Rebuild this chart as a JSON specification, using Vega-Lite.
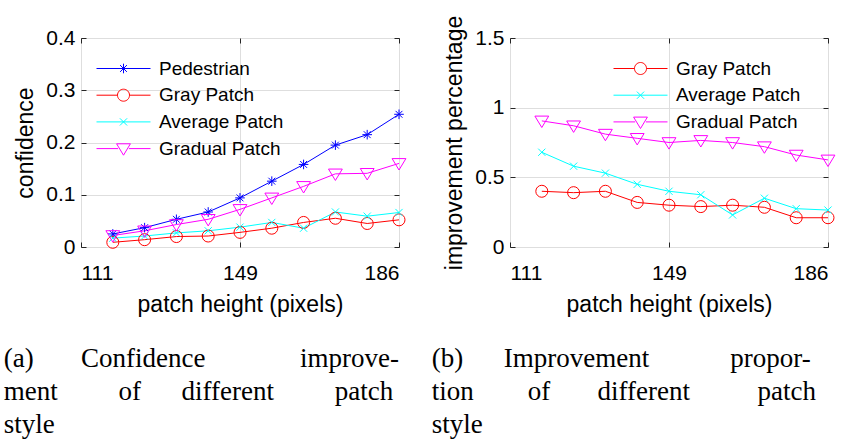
{
  "$schema": "https://vega.github.io/schema/vega-lite/v6.json",
  "padding": {"left": 3, "top": 14, "right": 5, "bottom": 5},
  "spacing": 4,
  "background": "white",
  "resolve": {
    "scale": {"color": "independent", "shape": "independent"},
    "legend": {"color": "independent", "shape": "independent"}
  },
  "config": {
    "font": "Liberation Sans",
    "view": {"stroke": "#262626", "strokeWidth": 1},
    "axis": {
      "domain": false,
      "labelFont": "Liberation Sans",
      "labelFontSize": 21,
      "labelColor": "black",
      "titleFont": "Liberation Sans",
      "titleFontSize": 23,
      "titleFontWeight": "normal",
      "titleColor": "black",
      "tickColor": "#262626",
      "tickSize": -5,
      "gridColor": "#dedede",
      "gridWidth": 1
    },
    "legend": {
      "labelFont": "Liberation Sans",
      "labelFontSize": 19,
      "labelColor": "black",
      "symbolSize": 144,
      "symbolStrokeWidth": 1,
      "symbolOpacity": 1,
      "symbolFillColor": "transparent",
      "rowPadding": 6.7,
      "labelOffset": 26
    },
    "title": {
      "font": "Liberation Serif",
      "fontSize": 27,
      "fontWeight": "normal",
      "lineHeight": 33,
      "color": "black",
      "orient": "bottom",
      "anchor": "start",
      "frame": "bounds",
      "offset": 30
    }
  },
  "datasets": {
    "conf": [
      {"h": 118.5, "series": "Pedestrian", "v": 0.025},
      {"h": 126, "series": "Pedestrian", "v": 0.037},
      {"h": 133.5, "series": "Pedestrian", "v": 0.053},
      {"h": 141, "series": "Pedestrian", "v": 0.067},
      {"h": 148.5, "series": "Pedestrian", "v": 0.094},
      {"h": 156, "series": "Pedestrian", "v": 0.126},
      {"h": 163.5, "series": "Pedestrian", "v": 0.158},
      {"h": 171, "series": "Pedestrian", "v": 0.195},
      {"h": 178.5, "series": "Pedestrian", "v": 0.215},
      {"h": 186, "series": "Pedestrian", "v": 0.254},
      {"h": 118.5, "series": "Gray Patch", "v": 0.009},
      {"h": 126, "series": "Gray Patch", "v": 0.014},
      {"h": 133.5, "series": "Gray Patch", "v": 0.020},
      {"h": 141, "series": "Gray Patch", "v": 0.021},
      {"h": 148.5, "series": "Gray Patch", "v": 0.028},
      {"h": 156, "series": "Gray Patch", "v": 0.036},
      {"h": 163.5, "series": "Gray Patch", "v": 0.047},
      {"h": 171, "series": "Gray Patch", "v": 0.055},
      {"h": 178.5, "series": "Gray Patch", "v": 0.045},
      {"h": 186, "series": "Gray Patch", "v": 0.052},
      {"h": 118.5, "series": "Average Patch", "v": 0.017},
      {"h": 126, "series": "Average Patch", "v": 0.021},
      {"h": 133.5, "series": "Average Patch", "v": 0.027},
      {"h": 141, "series": "Average Patch", "v": 0.031},
      {"h": 148.5, "series": "Average Patch", "v": 0.038},
      {"h": 156, "series": "Average Patch", "v": 0.047},
      {"h": 163.5, "series": "Average Patch", "v": 0.036},
      {"h": 171, "series": "Average Patch", "v": 0.067},
      {"h": 178.5, "series": "Average Patch", "v": 0.059},
      {"h": 186, "series": "Average Patch", "v": 0.066},
      {"h": 118.5, "series": "Gradual Patch", "v": 0.022},
      {"h": 126, "series": "Gradual Patch", "v": 0.031},
      {"h": 133.5, "series": "Gradual Patch", "v": 0.043},
      {"h": 141, "series": "Gradual Patch", "v": 0.053},
      {"h": 148.5, "series": "Gradual Patch", "v": 0.072},
      {"h": 156, "series": "Gradual Patch", "v": 0.094},
      {"h": 163.5, "series": "Gradual Patch", "v": 0.116},
      {"h": 171, "series": "Gradual Patch", "v": 0.140},
      {"h": 178.5, "series": "Gradual Patch", "v": 0.141},
      {"h": 186, "series": "Gradual Patch", "v": 0.160}
    ],
    "impr": [
      {"h": 118.5, "series": "Gray Patch", "v": 0.40},
      {"h": 126, "series": "Gray Patch", "v": 0.39},
      {"h": 133.5, "series": "Gray Patch", "v": 0.40},
      {"h": 141, "series": "Gray Patch", "v": 0.32},
      {"h": 148.5, "series": "Gray Patch", "v": 0.30},
      {"h": 156, "series": "Gray Patch", "v": 0.29},
      {"h": 163.5, "series": "Gray Patch", "v": 0.30},
      {"h": 171, "series": "Gray Patch", "v": 0.285},
      {"h": 178.5, "series": "Gray Patch", "v": 0.21},
      {"h": 186, "series": "Gray Patch", "v": 0.21},
      {"h": 118.5, "series": "Average Patch", "v": 0.68},
      {"h": 126, "series": "Average Patch", "v": 0.58},
      {"h": 133.5, "series": "Average Patch", "v": 0.53},
      {"h": 141, "series": "Average Patch", "v": 0.45},
      {"h": 148.5, "series": "Average Patch", "v": 0.40},
      {"h": 156, "series": "Average Patch", "v": 0.375},
      {"h": 163.5, "series": "Average Patch", "v": 0.23},
      {"h": 171, "series": "Average Patch", "v": 0.35},
      {"h": 178.5, "series": "Average Patch", "v": 0.275},
      {"h": 186, "series": "Average Patch", "v": 0.265},
      {"h": 118.5, "series": "Gradual Patch", "v": 0.905},
      {"h": 126, "series": "Gradual Patch", "v": 0.87},
      {"h": 133.5, "series": "Gradual Patch", "v": 0.81},
      {"h": 141, "series": "Gradual Patch", "v": 0.78},
      {"h": 148.5, "series": "Gradual Patch", "v": 0.75},
      {"h": 156, "series": "Gradual Patch", "v": 0.765},
      {"h": 163.5, "series": "Gradual Patch", "v": 0.75},
      {"h": 171, "series": "Gradual Patch", "v": 0.72},
      {"h": 178.5, "series": "Gradual Patch", "v": 0.66},
      {"h": 186, "series": "Gradual Patch", "v": 0.625}
    ]
  },
  "hconcat": [
    {
      "width": 318,
      "height": 209,
      "data": {"name": "conf"},
      "title": {
        "text": [
          "(a)\u00a0\u00a0\u00a0\u00a0\u00a0\u00a0\u00a0Confidence\u00a0\u00a0\u00a0\u00a0\u00a0\u00a0\u00a0\u00a0\u00a0\u00a0\u00a0\u00a0\u00a0\u00a0improve-",
          "ment\u00a0\u00a0\u00a0\u00a0\u00a0\u00a0\u00a0\u00a0\u00a0of\u00a0\u00a0\u00a0\u00a0\u00a0\u00a0different\u00a0\u00a0\u00a0\u00a0\u00a0\u00a0\u00a0\u00a0\u00a0patch",
          "style"
        ],
        "dx": -11
      },
      "resolve": {
        "scale": {"shape": "independent"},
        "axis": {"x": "independent", "y": "independent"},
        "legend": {"color": "independent", "shape": "independent"}
      },
      "layer": [
        {
          "mark": {"type": "line", "strokeWidth": 1},
          "encoding": {
            "x": {"field": "h", "type": "quantitative",
              "scale": {"domain": [111, 186], "nice": false, "zero": false},
              "axis": {"values": [111, 148.5, 186], "labelExpr": "format(round(datum.value), 'd')", "title": "patch height (pixels)", "grid": true, "labelPadding": 20, "titlePadding": 10}},
            "y": {"field": "v", "type": "quantitative",
              "scale": {"domain": [0, 0.4], "nice": false},
              "axis": {"values": [0, 0.1, 0.2, 0.3, 0.4], "format": "~g", "title": "confidence", "grid": true, "labelPadding": 11, "titlePadding": 8}},
            "color": {"field": "series", "type": "nominal",
              "scale": {"domain": ["Pedestrian", "Gray Patch", "Average Patch", "Gradual Patch"], "range": ["#0000ff", "#ff0000", "#00ffff", "#ff00ff"]},
              "legend": null},
            "detail": {"field": "series"}
          }
        },
        {
          "mark": {"type": "point", "filled": false, "size": 144, "strokeWidth": 1, "opacity": 1},
          "encoding": {
            "x": {"field": "h", "type": "quantitative", "axis": null},
            "y": {"field": "v", "type": "quantitative", "axis": null},
            "color": {"field": "series", "type": "nominal", "legend": null},
            "shape": {"field": "series", "type": "nominal",
              "scale": {"domain": ["Pedestrian", "Gray Patch", "Average Patch", "Gradual Patch"],
                "range": ["M0,-0.8L0,0.8M-0.8,0L0.8,0M-0.57,-0.57L0.57,0.57M-0.57,0.57L0.57,-0.57", "circle", "M-0.6,-0.6L0.6,0.6M-0.6,0.6L0.6,-0.6", "M-1.15,-0.8L1.15,-0.8L0,1.1Z"]},
              "legend": null}
          }
        },
        {
          "mark": {"type": "point", "filled": false, "size": 144, "strokeWidth": 1, "opacity": 0},
          "encoding": {
            "x": {"field": "h", "type": "quantitative",
              "axis": {"orient": "top", "values": [111, 148.5, 186], "labels": false, "title": null, "grid": false}},
            "y": {"field": "v", "type": "quantitative",
              "axis": {"orient": "right", "values": [0, 0.1, 0.2, 0.3, 0.4], "labels": false, "title": null, "grid": false}},
            "color": {"field": "series", "type": "nominal",
              "legend": {"title": null, "orient": "none", "legendX": 33, "legendY": 21}},
            "shape": {"field": "series", "type": "nominal",
              "scale": {"domain": ["Pedestrian", "Gray Patch", "Average Patch", "Gradual Patch"],
                "range": ["M-4.5,0L4.5,0M0,-0.8L0,0.8M-0.8,0L0.8,0M-0.57,-0.57L0.57,0.57M-0.57,0.57L0.57,-0.57", "M-4.5,0L-1,0M1,0L4.5,0M1,0A1,1,0,1,1,-1,0A1,1,0,1,1,1,0", "M-4.5,0L4.5,0M-0.6,-0.6L0.6,0.6M-0.6,0.6L0.6,-0.6", "M-4.5,0L-0.9,0M0.9,0L4.5,0M-1.15,-0.8L1.15,-0.8L0,1.1Z"]},
              "legend": {"title": null, "orient": "none", "legendX": 33, "legendY": 21}}
          }
        }
      ]
    },
    {
      "width": 318,
      "height": 209,
      "data": {"name": "impr"},
      "title": {
        "text": [
          "(b)\u00a0\u00a0\u00a0\u00a0\u00a0\u00a0Improvement\u00a0\u00a0\u00a0\u00a0\u00a0\u00a0\u00a0\u00a0\u00a0\u00a0\u00a0\u00a0propor-",
          "tion\u00a0\u00a0\u00a0\u00a0\u00a0\u00a0\u00a0\u00a0of\u00a0\u00a0\u00a0\u00a0\u00a0\u00a0\u00a0different\u00a0\u00a0\u00a0\u00a0\u00a0\u00a0\u00a0\u00a0\u00a0\u00a0patch",
          "style"
        ],
        "dx": -12
      },
      "resolve": {
        "scale": {"shape": "independent"},
        "axis": {"x": "independent", "y": "independent"},
        "legend": {"color": "independent", "shape": "independent"}
      },
      "layer": [
        {
          "mark": {"type": "line", "strokeWidth": 1},
          "encoding": {
            "x": {"field": "h", "type": "quantitative",
              "scale": {"domain": [111, 186], "nice": false, "zero": false},
              "axis": {"values": [111, 148.5, 186], "labelExpr": "format(round(datum.value), 'd')", "title": "patch height (pixels)", "grid": true, "labelPadding": 20, "titlePadding": 10}},
            "y": {"field": "v", "type": "quantitative",
              "scale": {"domain": [0, 1.5], "nice": false},
              "axis": {"values": [0, 0.5, 1, 1.5], "format": "~g", "title": "improvement percentage", "grid": true, "labelPadding": 11, "titlePadding": 8}},
            "color": {"field": "series", "type": "nominal",
              "scale": {"domain": ["Gray Patch", "Average Patch", "Gradual Patch"], "range": ["#ff0000", "#00ffff", "#ff00ff"]},
              "legend": null},
            "detail": {"field": "series"}
          }
        },
        {
          "mark": {"type": "point", "filled": false, "size": 144, "strokeWidth": 1, "opacity": 1},
          "encoding": {
            "x": {"field": "h", "type": "quantitative", "axis": null},
            "y": {"field": "v", "type": "quantitative", "axis": null},
            "color": {"field": "series", "type": "nominal", "legend": null},
            "shape": {"field": "series", "type": "nominal",
              "scale": {"domain": ["Gray Patch", "Average Patch", "Gradual Patch"],
                "range": ["circle", "M-0.6,-0.6L0.6,0.6M-0.6,0.6L0.6,-0.6", "M-1.15,-0.8L1.15,-0.8L0,1.1Z"]},
              "legend": null}
          }
        },
        {
          "mark": {"type": "point", "filled": false, "size": 144, "strokeWidth": 1, "opacity": 0},
          "encoding": {
            "x": {"field": "h", "type": "quantitative",
              "axis": {"orient": "top", "values": [111, 148.5, 186], "labels": false, "title": null, "grid": false}},
            "y": {"field": "v", "type": "quantitative",
              "axis": {"orient": "right", "values": [0, 0.5, 1, 1.5], "labels": false, "title": null, "grid": false}},
            "color": {"field": "series", "type": "nominal",
              "legend": {"title": null, "orient": "none", "legendX": 121, "legendY": 21}},
            "shape": {"field": "series", "type": "nominal",
              "scale": {"domain": ["Gray Patch", "Average Patch", "Gradual Patch"],
                "range": ["M-4.5,0L-1,0M1,0L4.5,0M1,0A1,1,0,1,1,-1,0A1,1,0,1,1,1,0", "M-4.5,0L4.5,0M-0.6,-0.6L0.6,0.6M-0.6,0.6L0.6,-0.6", "M-4.5,0L-0.9,0M0.9,0L4.5,0M-1.15,-0.8L1.15,-0.8L0,1.1Z"]},
              "legend": {"title": null, "orient": "none", "legendX": 121, "legendY": 21}}
          }
        }
      ]
    }
  ]
}
